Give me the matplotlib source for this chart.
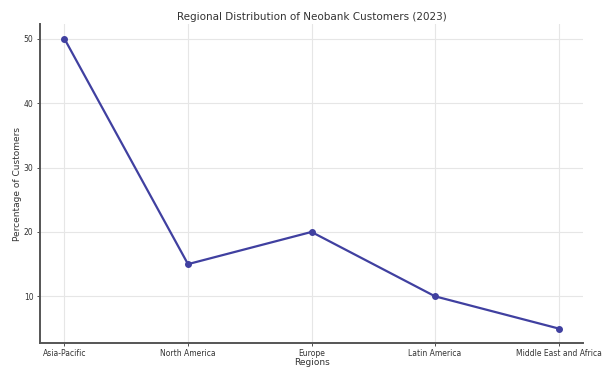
import matplotlib
matplotlib.use("Agg")
import matplotlib.pyplot as plt

regions = ["Asia-Pacific", "North America", "Europe", "Latin America", "Middle East and Africa"]
percentages = [50, 15, 20, 10, 5]

fig = plt.figure(figsize=(6.12, 3.69), dpi=100)
ax = fig.add_axes([0.065, 0.0705, 0.888, 0.8635])

ax.plot(regions, percentages, marker="o", color="#4040a0", linewidth=1.6, markersize=4)

ax.set_title("Regional Distribution of Neobank Customers (2023)", fontsize=7.5, color="#333333", pad=3)
ax.set_xlabel("Regions", fontsize=6.5, color="#333333", labelpad=0)
ax.set_ylabel("Percentage of Customers", fontsize=6.5, color="#333333", labelpad=1)
ax.set_yticks([10, 20, 30, 40, 50])
ax.tick_params(labelsize=5.5, colors="#333333", length=2.5, width=0.6, pad=2)
ax.grid(True, color="#e6e6e6", linewidth=0.8)
ax.set_axisbelow(True)
for s in ["top", "right"]:
    ax.spines[s].set_visible(False)
for s in ["left", "bottom"]:
    ax.spines[s].set_color("#555555")
    ax.spines[s].set_linewidth(1.4)

fig.savefig("out.png", dpi=100)
